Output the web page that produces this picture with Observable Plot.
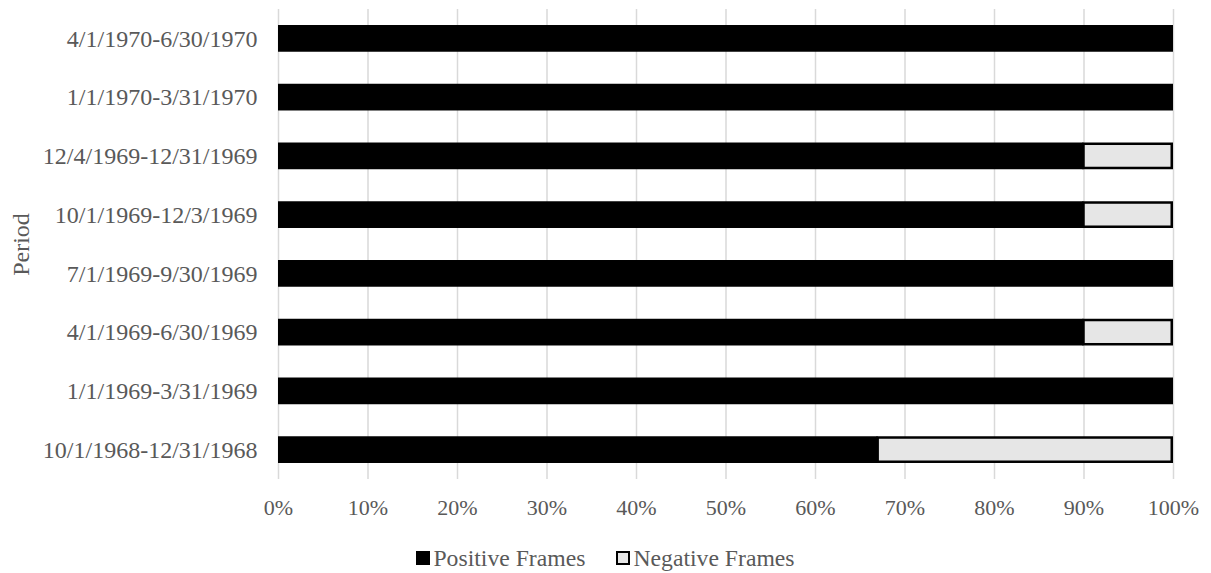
<!DOCTYPE html>
<html>
<head>
<meta charset="utf-8">
<script src="https://cdn.jsdelivr.net/npm/d3@7"></script>
<script src="https://cdn.jsdelivr.net/npm/@observablehq/plot@0.6"></script>
<style>
  html, body { margin: 0; padding: 0; background: #fff; }
  #chart { width: 1211px; height: 573px; position: relative; font-family: "Liberation Serif", "Times New Roman", serif; }
  #legend { position: absolute; left: 0; width: 1211px; top: 545px; display: flex; justify-content: center; gap: 31px; font-size: 23.7px; color: #595959; line-height: 26px; }
  .item { display: flex; align-items: center; gap: 3px; }
  .sw { width: 14px; height: 14px; box-sizing: border-box; }
</style>
</head>
<body>
<div id="chart"></div>
<script>
// Reporting periods, top row first
const periods = [
  "4/1/1970-6/30/1970",
  "1/1/1970-3/31/1970",
  "12/4/1969-12/31/1969",
  "10/1/1969-12/3/1969",
  "7/1/1969-9/30/1969",
  "4/1/1969-6/30/1969",
  "1/1/1969-3/31/1969",
  "10/1/1968-12/31/1968"
];
// Share of frames (%) per period
const positive = [100, 100, 90, 90, 100, 90, 100, 67];
const negative = [0, 0, 10, 10, 0, 10, 0, 33];
const seriesNames = ["Positive Frames", "Negative Frames"];
const xTicks = [0, 10, 20, 30, 40, 50, 60, 70, 80, 90, 100];

const rows = periods.map((p, i) => ({period: p, pos: positive[i], neg: negative[i]}));

const font = '"Liberation Serif", "Times New Roman", serif';
const textColor = "#595959";

const plot = Plot.plot({
  width: 1211,
  height: 530,
  marginTop: 9,
  marginBottom: 51,
  marginLeft: 278,
  marginRight: 38,
  style: {fontFamily: font, fontSize: "22px", color: textColor, background: "#fff"},
  x: {domain: [0, 100]},
  y: {domain: periods, paddingInner: 0.545, paddingOuter: 0.2725, round: false},
  marks: [
    Plot.gridX(xTicks, {stroke: "#d9d9d9", strokeOpacity: 1, strokeWidth: 1.5}),
    Plot.barX(rows, {y: "period", x1: 0, x2: "pos", fill: "#000"}),
    Plot.barX(rows.filter(d => d.neg > 0), {
      y: "period", x1: "pos", x2: d => d.pos + d.neg,
      fill: "#e6e6e6", stroke: "#000", strokeWidth: 2.5,
      insetTop: 1.25, insetBottom: 1.25, insetRight: 1.25, insetLeft: 0
    }),
    Plot.axisX({ticks: xTicks, tickFormat: d => d + "%", tickSize: 0, tickPadding: 20, fill: textColor, fontSize: 22, label: null}),
    Plot.axisY({tickSize: 0, tickPadding: 21, fill: textColor, fontSize: 24, label: null}),
    // Rotated axis title centred on the plot height
    Plot.text(["Period"], {
      frameAnchor: "left", textAnchor: "middle", dx: -257, rotate: -90, fill: textColor, fontSize: 24
    })
  ]
});
document.getElementById("chart").appendChild(plot);

// Legend below the plot
const legend = document.createElement("div");
legend.id = "legend";
const swatchStyles = [
  {background: "#000", border: "none"},
  {background: "#e6e6e6", border: "2.5px solid #000"}
];
seriesNames.forEach((name, i) => {
  const item = document.createElement("div");
  item.className = "item";
  const sw = document.createElement("div");
  sw.className = "sw";
  sw.style.background = swatchStyles[i].background;
  sw.style.border = swatchStyles[i].border;
  const t = document.createElement("span");
  t.textContent = name;
  item.appendChild(sw);
  item.appendChild(t);
  legend.appendChild(item);
});
document.getElementById("chart").appendChild(legend);
</script>
</body>
</html>
